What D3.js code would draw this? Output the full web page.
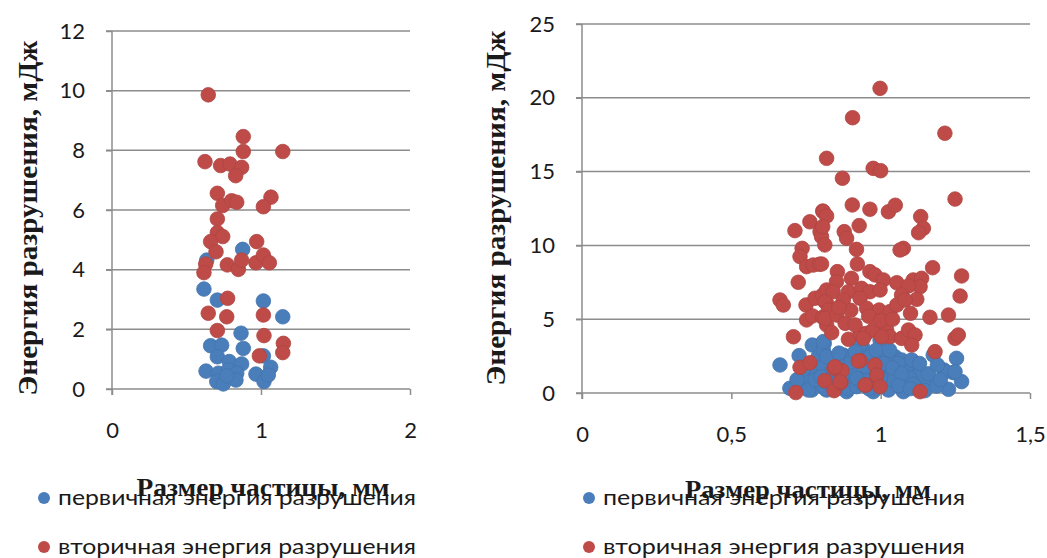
<!DOCTYPE html>
<html>
<head>
<meta charset="utf-8">
<script src="https://cdn.jsdelivr.net/npm/d3@7"></script>
<style>
  body { margin: 0; background: #fff; }
  svg { display: block; }
</style>
</head>
<body>
<div id="chart"></div>
<script>
// ---- data: [particle size mm, energy mJ] ----
const leftPrimary = [
  [0.636,4.32],[0.877,4.68],[0.617,3.35],[0.707,2.98],[1.016,2.95],[1.146,2.42],[0.866,1.87],
  [0.662,1.45],[0.736,1.47],[0.881,1.36],[0.707,1.08],[0.787,0.92],[0.870,0.84],[1.016,1.11],
  [0.631,0.60],[0.714,0.53],[0.781,0.64],[0.837,0.53],[0.703,0.25],[0.747,0.17],[0.832,0.30],
  [0.966,0.50],[1.065,0.73],[1.020,0.25],[0.770,0.44],[1.049,0.47]
];
const leftSecondary = [
  [0.646,9.86],[0.881,8.46],[0.881,7.96],[1.146,7.96],[0.624,7.62],[0.729,7.49],[0.792,7.54],
  [0.870,7.43],[0.830,7.15],[0.707,6.56],[0.743,6.15],[0.803,6.31],[0.837,6.26],[1.067,6.43],
  [1.016,6.11],[0.707,5.70],[0.707,5.24],[0.743,5.11],[0.662,4.94],[0.698,4.60],[0.971,4.94],
  [0.629,4.19],[0.617,3.90],[0.774,4.16],[0.848,4.01],[0.870,4.32],[0.966,4.23],[1.016,4.49],
  [1.056,4.23],[0.776,3.04],[0.646,2.54],[0.770,2.42],[1.016,2.48],[0.707,1.96],[1.020,1.79],
  [1.150,1.53],[1.146,1.22],[0.989,1.11]
];
const rightPrimary = [
  [0.663,1.90],[0.727,2.53],[0.771,3.25],[0.811,3.36],[0.791,2.46],[0.808,2.91],[0.708,0.32],
  [0.741,0.66],[0.758,1.10],[0.786,1.33],[0.769,0.20],[0.808,1.78],[0.819,0.20],[0.875,2.57],
  [0.931,3.36],[0.940,3.10],[0.886,0.09],[0.908,0.77],[0.836,1.44],[0.897,1.56],[0.964,1.10],
  [0.987,0.43],[0.808,3.48],[0.931,3.25],[0.998,3.59],[0.881,2.46],[0.920,2.35],[0.964,2.46],
  [1.009,2.51],[1.048,2.46],[1.070,2.24],[1.098,1.78],[1.132,1.44],[1.176,2.57],[1.254,2.35],
  [1.212,1.56],[1.243,1.38],[1.271,0.77],[1.227,0.25],[1.182,0.54],[1.154,0.77],[1.121,1.10],
  [1.082,0.54],[1.048,1.10],[1.026,1.56],[0.987,0.66],[0.942,1.10],[0.903,1.44],[0.892,0.32],
  [0.920,0.43],[0.975,0.09],[1.026,0.20],[1.076,0.09],[0.819,2.46],[0.813,0.32],[0.864,2.00],
  [1.059,2.00],[1.104,2.24],[0.696,0.32],[0.758,0.20],[0.846,0.90],[1.148,0.16],[1.187,0.47],
  [1.215,1.44],[1.249,1.44],[1.042,0.88],[1.098,1.00],[0.856,1.50],[0.780,0.90],[0.830,0.60],
  [0.860,2.70],[0.900,2.10],[0.950,1.80],[0.990,1.40],[1.010,2.00],[1.040,1.70],[1.070,1.30],
  [1.110,0.60],[1.160,1.30],[0.940,0.60],[0.870,1.10],[0.800,1.10],[0.740,1.60],[0.915,2.80],
  [0.985,2.90],[1.030,2.90],[1.130,2.00],[1.190,1.90],[0.960,0.30],[1.060,0.50],[1.100,0.30],
  [0.850,0.30],[0.920,1.00],[1.000,1.00],[0.720,0.90],[1.200,0.90]
];
const rightSecondary = [
  [0.819,15.90],[0.806,12.33],[0.763,11.60],[0.713,11.00],[0.797,10.93],[0.802,10.59],[0.737,9.80],
  [0.813,10.03],[0.998,20.64],[0.906,18.65],[1.215,17.60],[0.975,15.22],[1.000,15.06],[0.872,14.55],
  [1.249,13.14],[0.905,12.74],[0.964,12.45],[1.026,12.28],[1.049,12.72],[1.134,11.95],[1.143,11.16],
  [1.127,10.86],[0.928,11.34],[0.878,10.93],[0.886,10.48],[0.808,12.28],[0.819,11.99],[0.806,11.27],
  [0.919,9.73],[1.076,9.80],[1.065,9.69],[0.730,9.24],[0.752,8.56],[0.774,8.67],[0.795,8.72],
  [0.724,7.50],[0.663,6.30],[0.674,5.96],[0.750,5.96],[0.780,6.42],[0.806,6.64],[0.819,6.08],
  [0.752,4.95],[0.772,5.22],[0.806,5.13],[0.819,4.61],[0.708,3.81],[0.730,1.74],[0.763,2.05],
  [0.813,0.83],[0.716,0.03],[0.844,0.16],[0.867,0.70],[0.844,1.67],[0.870,1.51],[0.931,2.19],
  [0.951,0.54],[0.981,1.90],[0.987,1.22],[0.892,3.64],[0.836,4.09],[0.931,4.04],[0.922,8.74],
  [0.802,8.74],[0.855,8.22],[1.174,8.49],[1.271,7.93],[0.964,8.22],[0.981,8.00],[1.009,7.66],
  [1.054,7.47],[1.109,7.66],[1.137,7.77],[1.132,7.20],[1.093,7.25],[0.902,7.77],[0.852,7.54],
  [0.819,6.98],[0.841,6.86],[0.892,6.86],[0.936,7.09],[0.964,6.86],[0.998,6.98],[1.070,6.64],
  [1.121,6.35],[1.266,6.57],[0.875,6.30],[0.931,6.42],[0.953,5.74],[0.995,5.62],[1.031,5.51],
  [1.054,5.96],[1.082,6.30],[0.813,6.19],[0.825,5.62],[0.813,5.06],[0.853,5.28],[0.881,4.72],
  [0.914,4.61],[0.953,4.04],[0.975,4.27],[1.020,4.27],[1.031,3.81],[1.003,3.81],[1.070,3.70],
  [1.093,4.27],[1.115,3.93],[1.104,3.25],[1.165,5.13],[1.227,5.28],[1.249,3.70],[1.260,3.93],
  [0.942,3.70],[1.182,2.80],[0.925,2.17],[0.847,1.78],[0.864,0.77],[0.948,0.54],[0.998,0.43],
  [1.132,0.09],[0.960,5.20],[1.000,4.90],[1.040,5.00],[0.900,5.60],[0.860,5.80],[1.100,5.40]
];

const leftYTicks = [0, 2, 4, 6, 8, 10, 12];
const leftXTicks = [0, 1, 2];
const rightYTicks = [0, 5, 10, 15, 20, 25];
const rightXTicks = [0, 0.5, 1, 1.5];

const xTitle = "Размер частицы, мм";
const yTitle = "Энергия разрушения, мДж";
const seriesNames = ["первичная энергия разрушения", "вторичная энергия разрушения"];
const colors = ["#4a7ebb", "#be4b48"];

const W = 1047, H = 558;
const svg = d3.select("#chart").append("svg")
  .attr("width", W).attr("height", H);

const tickFont = "Lato, 'Open Sans', sans-serif";
const titleFont = "'Liberation Serif', 'Times New Roman', serif";
const gridColor = "#8c8c8c";

function drawChart(o) {
  const x = d3.scaleLinear().domain(o.xDomain).range([o.x0, o.x1]);
  const y = d3.scaleLinear().domain(o.yDomain).range([o.y0, o.y1]);
  const g = svg.append("g");

  // horizontal grid
  g.append("g")
    .selectAll("line")
    .data(o.yTicks.slice(1))
    .join("line")
    .attr("x1", o.x0 - 6).attr("x2", o.x1)
    .attr("y1", d => y(d)).attr("y2", d => y(d))
    .attr("stroke", gridColor).attr("stroke-width", 1.5);

  // y axis
  const ya = g.append("g")
    .attr("transform", `translate(${o.x0},0)`)
    .call(d3.axisLeft(y).tickValues(o.yTicks).tickSize(6).tickPadding(21));
  // x axis
  const xa = g.append("g")
    .attr("transform", `translate(0,${o.y0})`)
    .call(d3.axisBottom(x).tickValues(o.xTicks).tickSize(6).tickPadding(27)
      .tickFormat(d => String(d).replace(".", ",")));
  [ya, xa].forEach(a => {
    a.selectAll("path, line").attr("stroke", gridColor).attr("stroke-width", 1.5);
    a.selectAll("text").attr("fill", "#1a1a1a").style("font-family", tickFont).style("font-size", "22px");
  });
  ya.select(".domain").attr("d", `M0,${o.y1}V${o.y0 + 6}`);
  xa.select(".domain").attr("d", `M${o.x0 - 6},0H${o.x1}`);

  // points
  [o.primary, o.secondary].forEach((pts, i) => {
    g.append("g")
      .selectAll("circle")
      .data(pts)
      .join("circle")
      .attr("cx", d => x(d[0]))
      .attr("cy", d => y(d[1]))
      .attr("r", 7.3)
      .attr("fill", colors[i])
      .attr("stroke", d3.color(colors[i]).darker(0.25))
      .attr("stroke-width", 0.8);
  });

  // y title
  g.append("text")
    .attr("transform", `translate(${o.yTitleX},${o.yTitleY}) rotate(-90)`)
    .attr("text-anchor", "middle")
    .attr("textLength", o.yTitleLen).attr("lengthAdjust", "spacingAndGlyphs")
    .style("font-family", titleFont).style("font-weight", "bold").style("font-size", "27px")
    .attr("fill", "#1a1a1a")
    .text(yTitle);

  // legend
  seriesNames.forEach((name, i) => {
    const ly = o.legendY + i * 49;
    g.append("circle").attr("cx", o.legendX).attr("cy", ly - 7).attr("r", 6).attr("fill", colors[i]);
    g.append("text")
      .attr("x", o.legendX + 14).attr("y", ly)
      .attr("textLength", o.legendLen).attr("lengthAdjust", "spacingAndGlyphs")
      .style("font-family", tickFont).style("font-size", "22px").attr("fill", "#1a1a1a")
      .text(name);
  });

  // x title
  g.append("text")
    .attr("x", o.xTitleX).attr("y", o.xTitleY)
    .attr("text-anchor", "middle")
    .attr("textLength", o.xTitleLen).attr("lengthAdjust", "spacingAndGlyphs")
    .style("font-family", titleFont).style("font-weight", "bold").style("font-size", "25px")
    .attr("fill", "#1a1a1a")
    .text(xTitle);
}

drawChart({
  xDomain: [0, 2], yDomain: [0, 12], x0: 112, x1: 410, y0: 389, y1: 31,
  xTicks: leftXTicks, yTicks: leftYTicks,
  primary: leftPrimary, secondary: leftSecondary,
  yTitleX: 37, yTitleY: 218, yTitleLen: 355,
  xTitleX: 263, xTitleY: 496, xTitleLen: 253,
  legendX: 44, legendY: 505, legendLen: 358
});

drawChart({
  xDomain: [0, 1.5], yDomain: [0, 25], x0: 582, x1: 1030, y0: 393, y1: 24,
  xTicks: rightXTicks, yTicks: rightYTicks,
  primary: rightPrimary, secondary: rightSecondary,
  yTitleX: 505, yTitleY: 208, yTitleLen: 355,
  xTitleX: 808, xTitleY: 498, xTitleLen: 246,
  legendX: 589, legendY: 505, legendLen: 362
});
</script>
</body>
</html>
